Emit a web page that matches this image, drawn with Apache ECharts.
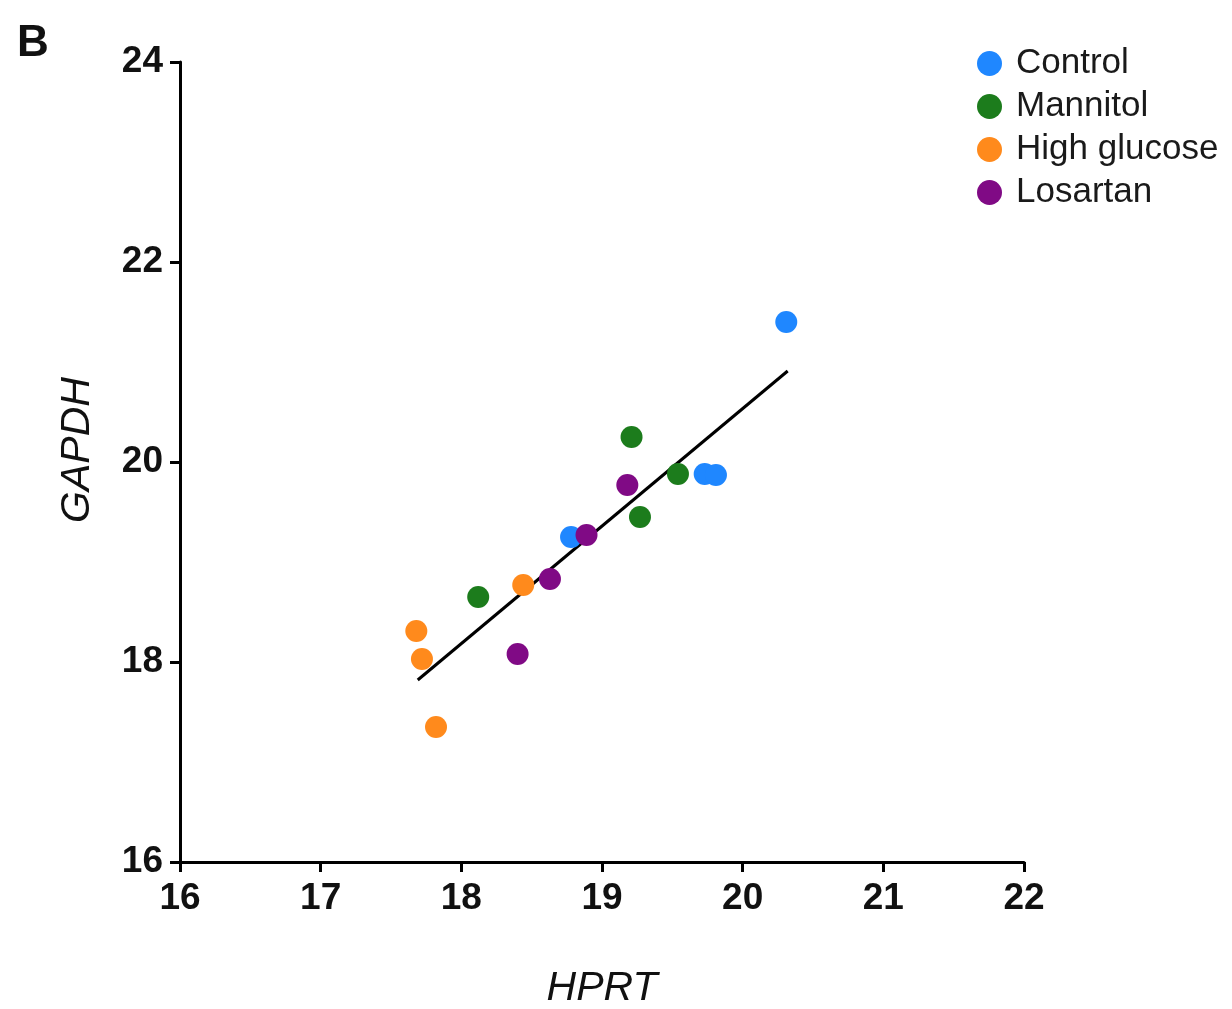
<!DOCTYPE html>
<html><head><meta charset="utf-8">
<script src="https://cdn.jsdelivr.net/npm/echarts@6/dist/echarts.min.js"></script>
<style>html,body{margin:0;padding:0;background:#fff}#c{width:1232px;height:1009px}</style>
</head><body><div id="c"></div>
<script>
const groups = ['Control', 'Mannitol', 'High glucose', 'Losartan'];
const controlX = [20.31, 19.73, 19.81, 18.78];
const controlY = [21.40, 19.88, 19.87, 19.25];
const mannitolX = [19.21, 19.54, 19.27, 18.12];
const mannitolY = [20.25, 19.88, 19.45, 18.65];
const highGlucoseX = [17.68, 17.72, 17.82, 18.44];
const highGlucoseY = [18.31, 18.03, 17.35, 18.77];
const losartanX = [19.18, 18.89, 18.63, 18.40];
const losartanY = [19.77, 19.27, 18.83, 18.08];
const fitX = [17.69, 20.32];
const fitY = [17.82, 20.91];
const xTicks = [16, 17, 18, 19, 20, 21, 22];
const yTicks = [16, 18, 20, 22, 24];

const colors = ['#1f87ff', '#1c7c1c', '#ff8a1c', '#800a85'];
const zip = (a, b) => a.map((v, i) => [v, b[i]]);
const seriesData = [zip(controlX, controlY), zip(mannitolX, mannitolY), zip(highGlucoseX, highGlucoseY), zip(losartanX, losartanY)];

const chart = echarts.init(document.getElementById('c'), null, {renderer: 'canvas'});
const font = '"Liberation Sans", Arial, Helvetica, sans-serif';
chart.setOption({
  animation: false,
  textStyle: {fontFamily: font},
  title: {text: 'B', left: 17, top: 22, padding: 0, textStyle: {fontSize: 44, fontWeight: 'bold', color: '#111', fontFamily: font}},
  legend: {
    data: groups, orient: 'vertical', left: 977, top: 46, padding: 0,
    icon: 'circle', itemWidth: 25, itemHeight: 25, itemGap: 8,
    textStyle: {fontSize: 35, lineHeight: 34, color: '#1a1a1a', fontFamily: font, padding: [0, 0, 0, 9]}
  },
  grid: {left: 180, right: 208, top: 62, bottom: 147, containLabel: false, outerBoundsMode: 'none'},
  xAxis: {
    type: 'value', min: xTicks[0], max: xTicks[xTicks.length - 1], interval: 1,
    name: 'HPRT', nameLocation: 'middle', nameGap: 106,
    nameTextStyle: {fontSize: 41, fontStyle: 'italic', color: '#111', fontFamily: font},
    axisLine: {lineStyle: {color: '#000', width: 3}},
    axisTick: {length: 10, lineStyle: {color: '#000', width: 3}},
    axisLabel: {fontSize: 37, fontWeight: 'bold', color: '#111', margin: 18, fontFamily: font},
    splitLine: {show: false}
  },
  yAxis: {
    type: 'value', min: yTicks[0], max: yTicks[yTicks.length - 1], interval: 2,
    name: 'GAPDH', nameLocation: 'middle', nameGap: 82, nameRotate: 90,
    nameTextStyle: {fontSize: 41, fontStyle: 'italic', color: '#111', fontFamily: font, padding: [0, 0, 0, 24]},
    axisLine: {lineStyle: {color: '#000', width: 3}},
    axisTick: {length: 10, lineStyle: {color: '#000', width: 3}},
    axisLabel: {fontSize: 37, fontWeight: 'bold', color: '#111', margin: 17, fontFamily: font},
    splitLine: {show: false}
  },
  series: [
    {type: 'line', data: zip(fitX, fitY), symbol: 'none', lineStyle: {color: '#000', width: 3}, silent: true, z: 1},
    ...groups.map((g, i) => ({
      name: g, type: 'scatter', data: seriesData[i], symbolSize: 22,
      itemStyle: {color: colors[i], opacity: 1}, z: 2
    }))
  ]
});
</script></body></html>
